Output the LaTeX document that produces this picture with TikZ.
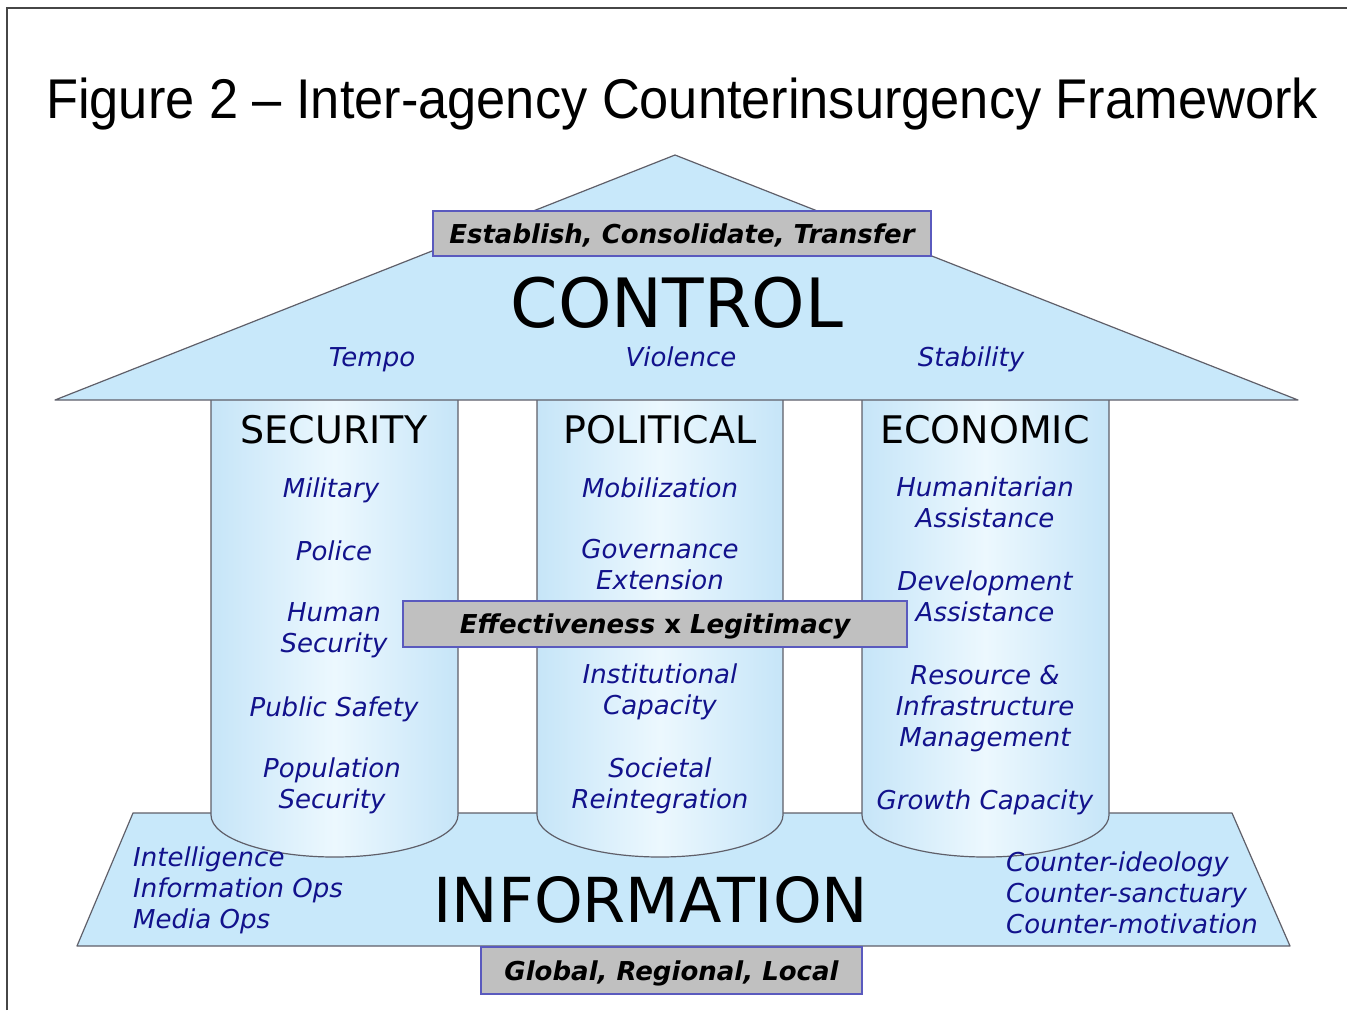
\documentclass[tikz,border=0pt]{standalone}
\usepackage{fontspec}
\setmainfont{DejaVu Sans}
\newfontfamily\titlefont[FakeStretch=0.935]{Liberation Sans}
\definecolor{roofblue}{RGB}{200,232,250}
\definecolor{pilledge}{RGB}{198,229,248}
\definecolor{pillmid}{RGB}{236,248,254}
\definecolor{edgegray}{RGB}{95,95,105}
\definecolor{boxgray}{RGB}{192,192,192}
\definecolor{boxborder}{RGB}{90,90,190}
\definecolor{txtblue}{RGB}{18,18,140}
\definecolor{framegray}{RGB}{70,70,70}
\begin{document}
\begin{tikzpicture}[x=1pt,y=-1pt,
  frameline/.style={draw=framegray,line width=1.5pt},
  shapeline/.style={draw=edgegray,line width=1.2pt,line join=round},
  roofshape/.style={shapeline,fill=roofblue},
  pillarshape/.style={shapeline,left color=pilledge,right color=pilledge,middle color=pillmid},
  graybox/.style={draw=boxborder,fill=boxgray,line width=1.2pt,inner sep=0pt,
    font=\fontsize{26}{31}\selectfont\bfseries\itshape,text height=19pt,text depth=0pt},
  item/.style={text=txtblue,inner sep=0pt,align=center,
    font=\fontsize{26}{31}\selectfont\itshape,execute at begin node=\strut},
  itemleft/.style={item,align=left,anchor=west},
  heading/.style={inner sep=0pt,anchor=base,font=\fontsize{38}{44}\selectfont},
  bigheading/.style={inner sep=0pt,anchor=base}
]
\useasboundingbox (0,0) rectangle (1347,1010);
% frame
\draw[frameline] (7,1010) -- (7,8) -- (1347,8);
% title
\node[inner sep=0pt,anchor=base west,font=\titlefont\fontsize{56}{60}\selectfont] (title) at (46,118)
  {Figure 2 – Inter-agency Counterinsurgency Framework};
% information base
\path[roofshape] (133,813) -- (1232,813) -- (1290,946) -- (77,946) -- cycle;
% pillars
\path[pillarshape] (211,392) -- (211,815) arc[start angle=180,end angle=360,x radius=123.5pt,y radius=42pt] -- (458,392);
\path[pillarshape] (537,392) -- (537,815) arc[start angle=180,end angle=360,x radius=123pt,y radius=42pt] -- (783,392);
\path[pillarshape] (862,392) -- (862,815) arc[start angle=180,end angle=360,x radius=123.5pt,y radius=42pt] -- (1109,392);
% roof
\path[roofshape] (55,400) -- (675,155) -- (1298,400) -- cycle;
% gray boxes
\node[graybox,minimum width=498pt,minimum height=45pt] (top) at (682,233.5) {Establish, Consolidate, Transfer};
\node[graybox,minimum width=504pt,minimum height=46pt] (mid) at (655,624) {Effectiveness {\upshape x} Legitimacy};
\node[graybox,minimum width=381pt,minimum height=47pt] (bot) at (671.5,970.5) {Global, Regional, Local};
% big headings
\node[bigheading,font=\fontsize{68}{72}\selectfont] (control) at (677,327) {CONTROL};
\node[bigheading,font=\fontsize{62}{66}\selectfont] (information) at (651,922) {INFORMATION};
% roof items
\node[item] (tempo) at (372,360) {Tempo};
\node[item] (violence) at (681,360) {Violence};
\node[item] (stability) at (971,360) {Stability};
% pillar headings
\node[heading] (security) at (334,443) {SECURITY};
\node[heading] (political) at (660,443) {POLITICAL};
\node[heading] (economic) at (985,443) {ECONOMIC};
% security items
\node[item] (s1) at (331,491) {Military};
\node[item] (s2) at (334,554) {Police};
\node[item] (s3) at (334,632) {Human\\\strut Security};
\node[item] (s4) at (334,710) {Public Safety};
\node[item] (s5) at (332,788) {Population\\\strut Security};
% political items
\node[item] (p1) at (660,491) {Mobilization};
\node[item] (p2) at (660,569) {Governance\\\strut Extension};
\node[item] (p3) at (660,694) {Institutional\\\strut Capacity};
\node[item] (p4) at (660,788) {Societal\\\strut Reintegration};
% economic items
\node[item] (e1) at (985,507) {Humanitarian\\\strut Assistance};
\node[item] (e2) at (985,601) {Development\\\strut Assistance};
\node[item] (e3) at (985,710) {Resource \&\\\strut Infrastructure\\\strut Management};
\node[item] (e4) at (985,803) {Growth Capacity};
% information items
\node[itemleft] (infoL) at (133,892) {Intelligence\\\strut Information Ops\\\strut Media Ops};
\node[itemleft] (infoR) at (1006,897) {Counter-ideology\\\strut Counter-sanctuary\\\strut Counter-motivation};
\end{tikzpicture}
\end{document}
